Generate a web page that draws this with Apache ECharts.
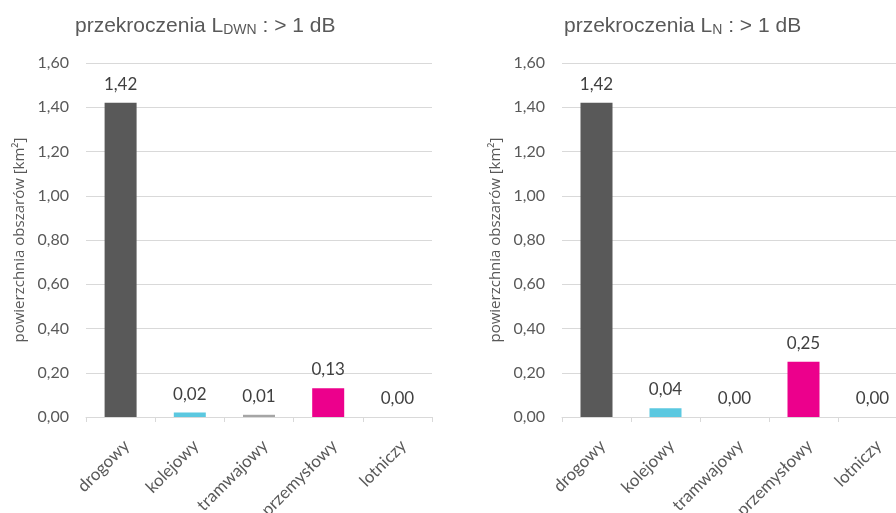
<!DOCTYPE html>
<html><head><meta charset="utf-8">
<script src="https://cdn.jsdelivr.net/npm/echarts@6/dist/echarts.min.js"></script>
<style>html,body{margin:0;padding:0;background:#fff}#c{width:896px;height:513px}</style>
</head><body><div id="c"></div>
<script>
const categories = ['drogowy', 'kolejowy', 'tramwajowy', 'przemysłowy', 'lotniczy'];
const valuesLDWN = [1.42, 0.02, 0.01, 0.13, 0.00];
const valuesLN = [1.42, 0.04, 0.00, 0.25, 0.00];
const barColors = ['#595959', '#5bc8e0', '#a5a5a5', '#ec008c', '#70ad47'];
const yTicks = { min: 0, max: 1.6, interval: 0.2 };
const titles = [['przekroczenia L', 'DWN', ' : > 1 dB'], ['przekroczenia L', 'N', ' : > 1 dB']];
const yName = 'powierzchnia obszarów [km²]';

const fmt = v => v.toFixed(2).replace('.', ',');
const font = 'Lato';
const chart = echarts.init(document.getElementById('c'));

const grids = [
  { left: 86, width: 346, top: 63, bottom: 96, outerBoundsMode: 'none', containLabel: false },
  { left: 562, width: 345, top: 63, bottom: 96, outerBoundsMode: 'none', containLabel: false }
];
const titleLeft = [75, 564];
const datasets = [valuesLDWN, valuesLN];

chart.setOption({
  animation: false,
  backgroundColor: '#fff',
  title: titles.map((t, i) => ({
    left: titleLeft[i], top: 10, padding: 0,
    text: '{a|' + t[0] + '}{s|' + t[1] + '}{a|' + t[2] + '}',
    textStyle: {
      fontWeight: 'normal',
      rich: {
        a: { fontFamily: 'Liberation Sans', fontSize: 21, fontWeight: 'normal', color: '#595959', lineHeight: 27, verticalAlign: 'bottom' },
        s: { fontFamily: 'Liberation Sans', fontSize: 14, fontWeight: 'normal', color: '#595959', lineHeight: 14, verticalAlign: 'bottom' }
      }
    }
  })),
  grid: grids,
  xAxis: grids.map((g, i) => ({
    type: 'category', gridIndex: i, data: categories, z: 5,
    axisLine: { lineStyle: { color: '#d9d9d9', width: 1 } },
    axisTick: { show: true, length: 5, lineStyle: { color: '#d9d9d9' } },
    axisLabel: { rotate: 45, margin: 20, align: 'right', verticalAlign: 'top', fontFamily: font, fontSize: 17, color: '#595959', interval: 0 }
  })),
  yAxis: grids.map((g, i) => ({
    type: 'value', gridIndex: i, min: yTicks.min, max: yTicks.max, interval: yTicks.interval,
    name: yName, nameLocation: 'middle', nameGap: 59, nameRotate: 90,
    nameTextStyle: { fontFamily: 'Open Sans', fontSize: 15, color: '#595959' },
    axisLine: { show: false }, axisTick: { show: false },
    axisLabel: { formatter: fmt, fontFamily: font, fontSize: 16, color: '#595959', margin: 17 },
    splitLine: { lineStyle: { color: '#d9d9d9', width: 1 } }
  })),
  series: datasets.map((vals, i) => ({
    type: 'bar', xAxisIndex: i, yAxisIndex: i, barWidth: 32,
    data: vals.map((v, k) => ({ value: v, itemStyle: { color: barColors[k] } })),
    label: {
      show: true, position: 'top', distance: 10,
      formatter: p => fmt(p.value),
      fontFamily: font, fontSize: 17, color: '#404040'
    }
  }))
});
</script></body></html>
